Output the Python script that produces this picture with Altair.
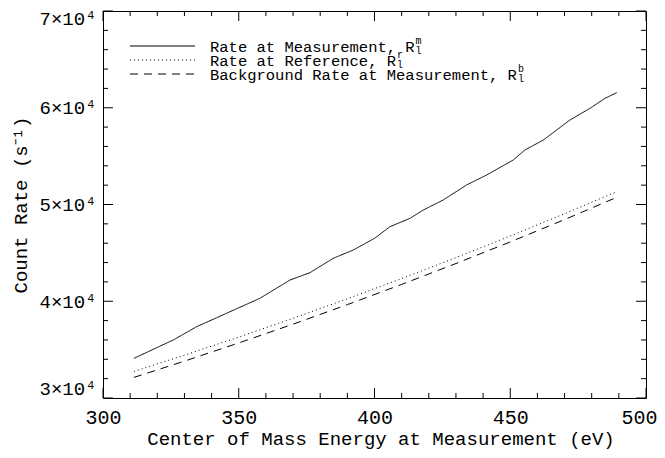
import altair as alt
import pandas as pd

# ---- data ----
energy_m = [311.4, 325.9, 334.5, 346.8, 357.8, 368.9, 376.2, 384.8, 392.2, 400.0,
            405.7, 413.1, 418.0, 425.3, 433.9, 441.3, 451.1, 455.4, 462.2, 472.0,
            479.4, 484.9, 489.2]
rate_m = [34100, 36000, 37370, 38920, 40305, 42196, 42951, 44439, 45297, 46500,
          47706, 48574, 49432, 50465, 52016, 53049, 54600, 55633, 56667, 58734,
          59944, 60977, 61556]

energy_rb = [311.4, 330, 350, 370, 390, 410, 430, 450, 470, 489.2]
rate_r = [32750, 34425, 36296, 38239, 40256, 42345, 44507, 46740, 49046, 51330]
rate_b = [32130, 33810, 35690, 37630, 39650, 41740, 43900, 46130, 48440, 50740]

series_names = ["Rate at Measurement", "Rate at Reference", "Background Rate at Measurement"]
legend_text = ["Rate at Measurement,", "Rate at Reference,", "Background Rate at Measurement,"]
legend_sym = ["R", "R", "R"]
legend_sup = ["m", "r", "b"]
legend_sub = ["l", "l", "l"]

x_major = [300, 350, 400, 450, 500]
x_minor = [v for v in range(300, 501, 10) if v % 50 != 0]
y_major = [30000, 40000, 50000, 60000, 70000]
y_minor = [v for v in range(30000, 70001, 2000) if v % 10000 != 0]

W, H = 543, 387
FONT = "Liberation Mono"
LEG_FS = 15.5
CHAR_W = 0.6 * LEG_FS

rows = []
for e, r in zip(energy_m, rate_m):
    rows.append({"series": series_names[0], "energy": e, "rate": r})
for e, r in zip(energy_rb, rate_r):
    rows.append({"series": series_names[1], "energy": e, "rate": r})
for e, r in zip(energy_rb, rate_b):
    rows.append({"series": series_names[2], "energy": e, "rate": r})
df = pd.DataFrame(rows)

xs = alt.Scale(domain=[300, 500], nice=False, zero=False)
ys = alt.Scale(domain=[30000, 70000], nice=False, zero=False)
dash_scale = alt.Scale(domain=series_names, range=[[1, 0], [1, 3], [8, 6]])

lines = alt.Chart(df).mark_line(color="black", strokeWidth=1).encode(
    x=alt.X("energy:Q", scale=xs,
            axis=alt.Axis(values=x_major, title="Center of Mass Energy at Measurement (eV)",
                          ticks=False, domain=False, grid=False, labelPadding=9,
                          labelFlush=False, labelFont=FONT, titleFont=FONT,
                          labelOffset={"condition": {"test": "datum.value == 500", "value": -7}, "value": 0},
                          labelFontSize=20, titleFontSize=19, titlePadding=2,
                          titleX=W / 2 + 6,
                          labelColor="black", titleColor="black", titleFontWeight="normal")),
    y=alt.Y("rate:Q", scale=ys,
            axis=alt.Axis(values=y_major, title="Count Rate (s⁻¹)",
                          labelExpr="datum.value/10000 + '×10⁴'",
                          ticks=False, domain=False, grid=False, labelPadding=7,
                          labelFlush=True, labelFont=FONT, titleFont=FONT,
                          labelOffset={"condition": {"test": "datum.value == 70000", "value": -2}, "value": 0},
                          labelFontSize=19, titleFontSize=19, titlePadding=8,
                          labelColor="black", titleColor="black", titleFontWeight="normal")),
    strokeDash=alt.StrokeDash("series:N", scale=dash_scale, legend=None),
    detail="series:N",
)

def xticks(vals, length):
    d = pd.DataFrame({"v": vals})
    bottom = alt.Chart(d).mark_rule(color="black", strokeWidth=1).encode(
        x=alt.X("v:Q", scale=xs), y=alt.value(H), y2=alt.value(H - length))
    top = alt.Chart(d).mark_rule(color="black", strokeWidth=1).encode(
        x=alt.X("v:Q", scale=xs), y=alt.value(0), y2=alt.value(length))
    return [bottom, top]

def yticks(vals, length):
    d = pd.DataFrame({"v": vals})
    left = alt.Chart(d).mark_rule(color="black", strokeWidth=1).encode(
        y=alt.Y("v:Q", scale=ys), x=alt.value(0), x2=alt.value(length))
    right = alt.Chart(d).mark_rule(color="black", strokeWidth=1).encode(
        y=alt.Y("v:Q", scale=ys), x=alt.value(W), x2=alt.value(W - length))
    return [left, right]

tick_layers = xticks(x_major, 10) + xticks(x_minor, 5) + yticks(y_major, 10) + yticks(y_minor, 5)

# ---- manual legend ----
row_y = [35, 49, 63]
leg_dash = [[1, 0], [1, 3], [8, 6]]
legend_layers = []
for i in range(3):
    d = pd.DataFrame({"label": [legend_text[i]], "sym": [legend_sym[i]],
                      "sup": [legend_sup[i]], "sub": [legend_sub[i]]})
    rx = 107 + (len(legend_text[i]) + 1) * CHAR_W
    sx = rx + CHAR_W + 1
    legend_layers.append(alt.Chart(d).mark_rule(color="black", strokeWidth=1, strokeDash=leg_dash[i]).encode(
        x=alt.value(27), x2=alt.value(92), y=alt.value(row_y[i])))
    legend_layers.append(alt.Chart(d).mark_text(align="left", baseline="middle", fontSize=LEG_FS,
                                                font=FONT, color="black").encode(
        x=alt.value(107), y=alt.value(row_y[i] + 1), text="label:N"))
    legend_layers.append(alt.Chart(d).mark_text(align="left", baseline="middle", fontSize=LEG_FS,
                                                font=FONT, color="black").encode(
        x=alt.value(rx), y=alt.value(row_y[i] + 1), text="sym:N"))
    legend_layers.append(alt.Chart(d).mark_text(align="left", baseline="middle", fontSize=10,
                                                font=FONT, color="black").encode(
        x=alt.value(sx), y=alt.value(row_y[i] - 5), text="sup:N"))
    legend_layers.append(alt.Chart(d).mark_text(align="left", baseline="middle", fontSize=10,
                                                font=FONT, color="black").encode(
        x=alt.value(sx), y=alt.value(row_y[i] + 5), text="sub:N"))

chart = alt.layer(lines, *tick_layers, *legend_layers).properties(
    width=W, height=H,
    autosize=alt.AutoSizeParams(type="none"),
    padding={"left": 95, "top": 3, "right": 11, "bottom": 52},
).configure(font=FONT, background="white").configure_view(stroke="black", strokeWidth=1)

chart.save("out.html", embed_options={"renderer": "svg", "actions": False})
